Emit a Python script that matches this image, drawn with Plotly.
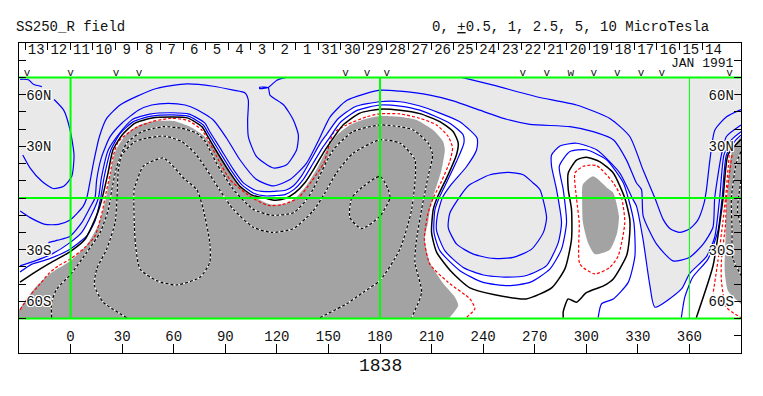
import plotly.graph_objects as go

# ---- labels ----
DAY_LABELS = ["13","12","11","10","9","8","7","6","5","4","3","2","1","31","30","29","28","27","26","25","24","23","22","21","20","19","18","17","16","15","14"]
DAY_TICKS = [-26.5,-13.4,-0.2,12.9,26.0,39.2,52.3,65.4,78.5,91.7,104.8,117.9,131.1,144.2,157.3,170.5,183.6,196.7,209.8,223.0,236.1,249.2,262.4,275.5,288.6,301.8,314.9,328.0,341.1,354.3,367.4,380.5]
LON_TICKS = [0,30,60,90,120,150,180,210,240,270,300,330,360]
LAT_TICKS = [-80,-70,-60,-50,-40,-30,-20,-10,0,10,20,30,40,50,60,70,80]
LAT_TEXT = ["","","60S","","","30S","","","","","","30N","","","60N","",""]
STATION_LON = [-25.3,0,26.5,39.8,160,172.4,184,263,277,304.4,318,331.8,344,383.4]
STATION_W_LON = [291]

# ---- contours, (lon, lat) ----
BLUE_5 = [(227.5,70),(245.9,65.5),(271,58.8),(294.3,54),(313.7,46.2),(325.3,35.7),(333,16.4),(339.9,0),(344.7,-12.4),(349,-18),(354.4,-20),(360,-18),(364.8,-13),(368.5,-3),(369.9,4.9),(371.9,22),(374.8,39.5),(381.6,47.2),(390,51.4)]
BLUE_5B = [(-29.3,-7.6),(-23.5,-11.4),(-14.8,-15.3),(-7,-15.3),(-0.3,-12.8),(7.4,-4.7),(9.4,0),(13.3,20.3),(16.8,35.7),(21,46.2),(28.8,54),(38.5,59),(50,63.6),(67.5,66.3),(83,64.9),(94.7,62.6),(101.5,61),(103.4,56.8),(103,45.3),(103.4,35.7),(108.2,24),(118,17.4),(125.7,19.3),(131.5,28),(132.5,36.6),(129.6,45.3),(124,54),(116,59.7),(115,64),(110,64.3),(110,63.6),(115,64.2),(120,68.4),(125.7,70)]
BLUE_LOOP_A = [(-29.3,68.9),(-24.5,68.7),(-21.6,66),(-16.7,64.7)]
BLUE_LOOP_B = [(-9.6,57.2),(-4,51),(-0.3,39.5),(2,25),(0.7,12.6),(-4,6.8),(-10,5.5),(-16.7,9.7),(-23.5,17.4),(-27.8,25)]
BLUE_INNER_LOOP = [(229.4,4.9),(220.7,-8.6),(219.7,-17.2),(224.6,-26.8),(234.3,-32.6),(245.9,-35.1),(257.5,-34.5),(268.2,-29.7),(275,-20.1),(276.9,-11.4),(273,4.9),(269.1,8.7),(263.3,13.5),(254.6,14.9),(244,13.5),(232.3,7.8),(229.4,4.9)]
BLUE_25 = [(-12.9,-25.9),(-7.3,-24.5),(-0.3,-22.2),(6.5,-14.3),(11.3,-5.5),(14.2,0),(15.2,10.7),(18.1,24),(23,35.6),(29.8,43.4),(39.4,51),(47.2,54),(56.9,55),(66.6,54),(73.4,51.4),(83,45.3),(90.8,34.7),(98.5,22.2),(108.2,10.7),(118,7),(127.7,10.7),(137.3,20.3),(145,35),(150.9,47),(160.8,56.7),(180,62.6),(191.6,62),(209,59.7),(222.6,56.4),(238,51),(253.6,45.7),(267.2,42.8),(290.5,41.4),(304,38.5),(315.7,33.8),(323.4,22),(329.2,8.7),(332.1,4.9),(333.1,-10.5),(340.9,-26.8),(350.5,-36.5),(360,-34.5),(368,-26.8),(373.7,-17),(374.7,0),(378.6,25),(381.5,35.7),(390,42.4)]
BLUE_1 = [(-29.4,-39.4),(-20.6,-36.5),(-11,-32.6),(-0.3,-25.9),(6.5,-20),(12.3,-9.5),(16.2,0),(18,12),(22,28),(28,37),(35.8,45.5),(46,48.7),(59,49.5),(69,48.7),(78,43.6),(81,38.5),(87,29),(94.7,16.6),(100.5,8.8),(107.5,4.5),(113,3.7),(119,3.9),(125,4.5),(129.5,7),(134.5,13),(140,22.5),(145.4,32),(149,37),(155.6,46),(165.5,53),(180,55.9),(191.6,55.9),(203.2,53.4),(214.8,49.3),(226.4,44.3),(236.5,34.7),(236.2,28),(230.4,18.3),(220.6,6.8),(216.2,0),(213.3,-10.5),(212.9,-19),(217.8,-30.7),(228.4,-40.3),(240,-44.7),(253.6,-46),(265.3,-45),(276.9,-39.3),(283.7,-25.9),(285.6,-14.3),(282.7,4.9),(279.8,18.4),(279.8,25),(284.7,30.2),(294.3,31.8),(306,28),(319.5,14.5),(326.7,0),(329.2,-4.7),(333,-23.9),(337,-50.9),(339.9,-63.4),(355.4,-52.8),(360,-44),(369.9,-34),(374.7,-22.8),(377.6,0),(380.1,25),(384.4,33.8),(390,38.5)]
BLUE_05 = [(-29.4,-43),(-22.5,-38.4),(-12.9,-35.5),(-0.3,-29.7),(9.4,-22),(14.2,-13.4),(17.5,0),(19.5,12),(23.5,28),(29,37.6),(36.8,44.5),(47,47.5),(59,48.3),(68.5,47.5),(77.2,42.4),(80.2,37.5),(86,28),(93.7,15.6),(99.5,7.8),(106.5,2.8),(113,1.2),(119,1.4),(124.7,2),(130,5),(135.5,11),(141,20),(146.4,29),(150,34),(157,44),(167,51),(180,54),(191.6,53.4),(203.2,51),(220.6,43.4),(228.4,36.6),(228.8,31.9),(224.5,21.2),(216.7,4.9),(214.4,0),(212,-6.6),(211.4,-20),(214.9,-30.7),(226.5,-42.2),(240,-49),(254.6,-50.9),(267.2,-49),(278.8,-41.3),(285.6,-29.7),(288.5,-14.3),(286.6,4.9),(284.3,18.4),(290.5,27),(300,28),(311.8,22.2),(321.5,8.8),(324.4,0),(327.7,-14.3),(328.3,-33.6),(324.4,-49),(315.7,-58.6),(308.9,-61.4),(306.9,-69.5)]
BLUE_05R = [(355.3,-69.5),(357.3,-57.6),(362,-45.9),(370.8,-35.5),(376.6,-19),(379,0),(381.5,25),(386.3,32.8),(390,36.6)]
BLACK_0 = [(-29.4,-48.8),(-20.6,-43),(-13,-38.4),(0,-31),(8.4,-24),(15.4,-9.5),(18.4,0),(21.8,14.6),(24.7,28),(30,36.6),(37.5,43.5),(47.4,46.4),(59,47),(68.3,46.4),(76.5,41.3),(79.4,36.5),(85,27),(92.7,14.7),(98.5,6.8),(106,1.5),(113,0),(119,-1.3),(124.7,-0.3),(130.5,3),(136.3,8.8),(142,17.6),(147.4,26.8),(150.9,32),(158.5,42.4),(168.3,49.3),(180,51.6),(191.6,51),(203.2,49),(214.8,44.3),(222.6,38.5),(225.5,31.9),(224.5,25.1),(219.7,13.6),(213.2,0),(211,-6.6),(210,-20),(213,-31.6),(221.7,-43),(232,-52),(246,-56),(265,-58.6),(280,-52),(287.6,-41),(291.4,-24),(291.4,-6.6),(289.5,5),(289.5,14.5),(294.3,22),(300,23.7),(308,21),(315.7,14.5),(322.4,0),(325.3,-12.4),(325,-24),(323.4,-33.6),(315.7,-47),(310,-51),(300,-55),(294.3,-60.5),(289.5,-58.6),(286.6,-66),(286.6,-69.5)]
BLACK_0R = [(364,-69.5),(373.7,-39.5),(377.6,-15),(379.6,0),(382.4,25),(388,32),(390,34)]
RED_A = [(-29.4,-65),(-24.5,-57.6),(-17.7,-49.9),(-12.9,-44.1),(-7.1,-39.4),(-0.3,-35.5),(8.4,-28.7),(14.2,-22),(18.5,-7.6),(20,0),(23,14),(25,25),(27.8,32.8),(37.5,40.5),(47.2,44.3),(58.8,46.3),(68.5,44.9),(76.3,39.5),(79.4,34.8),(85,24.1),(92.7,10.7),(101.5,3),(107.3,-0.9),(115,-4.3),(122.8,-3.9),(132.4,0),(140.2,9.7),(147.4,20.5),(152.8,37.6),(160.5,42.4),(172.3,47.2),(180,48.9),(191.6,48.8),(203.2,46.3),(212.9,42.4),(219.7,35.7),(222.2,29),(220.6,21.2),(215.8,9.7),(211,0),(208,-8.6),(205.8,-24),(209,-38.4),(219.7,-49),(232.3,-58.6),(235.2,-64.3),(230,-69.5)]
RED_ISLAND = [(294.3,0),(293.4,14.5),(298.2,18.4),(306,18.8),(315.7,8.8),(320.5,0),(322.4,-14.3),(318.6,-33.6),(313.7,-40.3),(305,-44.1),(296.3,-38.4),(295.9,-14.3),(294.3,0)]
RED_R1 = [(383.4,28),(381,0),(379.5,-13.4),(376.6,-36.5),(373.7,-55.7)]
RED_R2 = [(384.8,25),(381.5,0),(381,-15.3),(378.6,-36.5),(378.6,-48),(381.5,-63.4),(390,-69.5)]
POS_1 = [(-11,-69.5),(-11,-60.5),(-8,-52.8),(-0.3,-44.7),(9.4,-31.6),(17.2,-20),(22,-6.6),(24,4.9),(26.9,18.3),(32.7,31.9),(41.4,38.5),(54,41.4),(64.7,40.5),(73.4,37.6),(78.2,33),(85,20),(94.7,5),(106.3,-6.6),(117,-10),(129.6,-8.6),(137.3,-0.9),(141,5),(152.8,28),(164.4,38.6),(180,42.4),(191.6,41.4),(199.3,39.5),(208,31.9),(210.6,25),(208,12.6),(204.2,-6.6),(201,-25.9),(200.3,-37.4),(204.2,-54.7),(198.4,-69.5)]
POS_2 = [(32.7,-69.5),(19,-60.5),(13.9,-50.9),(15.2,-41.3),(21,-29.7),(25.9,-14.3),(27,0),(27.8,16.4),(29.8,25),(37.5,32.8),(44.3,34.7),(54,36),(64.7,32.8),(72.4,26),(78.2,18),(86.5,5),(94.7,-6.6),(106.3,-17),(117,-20),(129.6,-17.8),(141,-7.6),(148,3),(154.6,14.5),(164.4,26),(180,33.8),(191.6,31.9),(200.3,22.2),(198.4,-6.6),(191.6,-29.7),(180,-47.9),(170.3,-54.7),(160.6,-61.4),(145,-69.5)]
POS_3 = [(36.9,4.9),(37.5,-23.9),(40.4,-41.2),(50,-48),(61.7,-50.5),(75.3,-46),(81,-37.4),(81,-25.9),(77.2,-6.6),(73.4,4.9),(66.6,10.7),(54,23.2),(42.3,18.4),(37.5,6.8),(36.9,4.9)]
POS_4 = [(180,12.6),(184.8,4.9),(185.8,0),(180,-10.5),(169.3,-17.8),(162.5,-11.4),(163.5,0),(170.3,6.8),(180,12.6)]
POS_R1 = [(390,27),(387.3,20.3),(384.4,0),(384.8,-19),(384.8,-30),(385.4,-35.5),(390,-45)]
POS_R2 = [(390,10),(388.5,0),(388,-7.8),(390,-16.3)]
GRAY_MAIN = [(-30,-70),(-30,-65.5),(-20.5,-52),(-12,-44),(0,-36.5),(9.6,-27),(16,-16),(19,-6.6),(20.6,0),(23,12.6),(26,27),(32,36.6),(40,42.4),(50,44.7),(60,44.7),(69.5,41.4),(77,36.6),(83,30),(89,20),(94.7,11.6),(100.5,5),(108,0),(116,-3.7),(124,-3.7),(129.6,-1),(137,7),(143,16.4),(149,28),(155,36.6),(162.5,42.4),(172,46),(180,47.6),(191.6,47.2),(201.3,45.3),(210.9,39.5),(216.7,32.8),(217.7,28),(215.8,16.4),(211,1),(209,-7),(208,-14),(206,-24),(209,-37.5),(217,-50),(223.6,-57.6),(225.5,-62.4),(220,-70)]
GRAY_ISLAND = [(304,12.6),(298,7.8),(297.6,0),(298,-14),(301,-26),(305,-32.6),(313.7,-30),(318,-20),(319,-10.5),(315.7,3),(312,6),(304,12.6)]
GRAY_RIGHT = [(390,35.7),(385.4,29),(383.4,20.5),(381.9,0),(381.5,-3.8),(381,-23),(380.5,-42),(382.4,-53.8),(390,-61.5)]

BLUE="#0000ff"; RED="#ff0000"; GREEN="#00ff00"
MONO="Liberation Mono"
fig = go.Figure()

def xs(p): return [a for a,_ in p]
def ys(p): return [b for _,b in p]
def fill(p, color):
    fig.add_trace(go.Scatter(x=xs(p), y=ys(p), mode="lines", fill="toself", fillcolor=color,
                             line=dict(width=0, shape="spline", smoothing=0.6), hoverinfo="skip"))
def line(p, color, width=1.2, dash=None, shape="spline"):
    fig.add_trace(go.Scatter(x=xs(p), y=ys(p), mode="lines",
                             line=dict(color=color, width=width, dash=dash, shape=shape, smoothing=0.6), hoverinfo="skip"))

# the light field is a smooth band along the contour, closed by a straight-edged block above it
fill(BLUE_1 + [(390,38.5),(390,69.9),(390,69.9),(-30,69.9),(-30,69.9),(-30,-39.4),(-30,-39.4)], "#e9e9e9")
fill(GRAY_MAIN, "#a3a3a3")
fill(GRAY_ISLAND, "#a3a3a3")
fill(GRAY_RIGHT, "#a3a3a3")

for p in [RED_A, RED_ISLAND, RED_R1, RED_R2]:
    line(p, RED, 1.2, "3px,2px")
for p in [POS_1, POS_2, POS_3, POS_4, POS_R1, POS_R2]:
    line(p, "#ffffff", 1.2)
    line(p, "#000000", 1.2, "3px,2px")
for p in [BLUE_5, BLUE_5B, BLUE_LOOP_A, BLUE_LOOP_B, BLUE_INNER_LOOP, BLUE_25, BLUE_1, BLUE_05, BLUE_05R]:
    line(p, BLUE)
for p in [BLACK_0, BLACK_0R]:
    line(p, "#000000", 1.5)

# green reference lines
for p, w in [([(-30,70),(390,70)],2), ([(-30,-70),(390,-70)],2), ([(-30,0),(390,0)],2),
             ([(0,-70),(0,70)],2), ([(180,-70),(180,70)],2), ([(360,-70),(360,70)],1)]:
    line(p, GREEN, w, shape="linear")

# day labels + station marks
fig.add_trace(go.Scatter(x=[(DAY_TICKS[i]+DAY_TICKS[i+1])/2 for i in range(len(DAY_LABELS))],
                         y=[85.9]*len(DAY_LABELS), mode="text", text=DAY_LABELS,
                         textfont=dict(family=MONO, size=14, color="#111"), hoverinfo="skip", cliponaxis=False))
fig.add_trace(go.Scatter(x=STATION_LON, y=[72.3]*len(STATION_LON), mode="text", text=["v"]*len(STATION_LON),
                         textfont=dict(family=MONO, size=11, color="#111"), hoverinfo="skip"))
fig.add_trace(go.Scatter(x=STATION_W_LON, y=[72.3], mode="text", text=["w"],
                         textfont=dict(family=MONO, size=11, color="#111"), hoverinfo="skip"))
# carriers for the mirrored axes
fig.add_trace(go.Scatter(x=[0], y=[0], xaxis="x2", yaxis="y2", mode="markers", marker=dict(opacity=0), hoverinfo="skip"))

HALO = "1px 0 0 #fff,-1px 0 0 #fff,0 1px 0 #fff,0 -1px 0 #fff,1px 1px 0 #fff,-1px -1px 0 #fff,1px -1px 0 #fff,-1px 1px 0 #fff"
tickf = dict(family=MONO, size=14, color="#111")
latf = dict(family=MONO, size=14, color="#111", shadow=HALO)
fig.update_layout(
    width=755, height=388, margin=dict(l=11, r=22, t=35, b=43), autosize=False,
    paper_bgcolor="#fff", plot_bgcolor="#fff", showlegend=False,
    xaxis=dict(range=[-30,390], tickmode="array", tickvals=LON_TICKS, ticktext=[str(v) for v in LON_TICKS],
               ticks="inside", ticklen=9, tickcolor="#000", tickwidth=1, ticklabelposition="inside",
               tickfont=tickf, showgrid=False, zeroline=False, showline=True, linecolor="#000", linewidth=1, mirror=False),
    xaxis2=dict(range=[-30,390], overlaying="x", side="top", tickmode="array", tickvals=DAY_TICKS,
                ticktext=[""]*len(DAY_TICKS), ticks="inside", ticklen=7, tickcolor="#000", showgrid=False,
                zeroline=False, showline=True, linecolor="#000", linewidth=1),
    yaxis=dict(range=[-90,90], tickmode="array", tickvals=LAT_TICKS, ticktext=LAT_TEXT, ticks="inside",
               ticklen=7, tickcolor="#000", ticklabelposition="inside", tickfont=latf, showgrid=False,
               zeroline=False, showline=True, linecolor="#000", linewidth=1),
    yaxis2=dict(range=[-90,90], overlaying="y", side="right", anchor="x2", tickmode="array", tickvals=LAT_TICKS,
                ticktext=LAT_TEXT, ticks="inside", ticklen=7, tickcolor="#000", ticklabelposition="inside",
                tickfont=latf, showgrid=False, zeroline=False, showline=True, linecolor="#000", linewidth=1),
    annotations=[
        dict(text="SS250_R field", xref="paper", yref="paper", x=-5/722, y=1+16/310, xanchor="left", yanchor="middle",
             showarrow=False, font=dict(family=MONO, size=14, color="#111")),
        dict(text="0, <u>+</u>0.5, 1, 2.5, 5, 10 MicroTesla", xref="paper", yref="paper", x=411/722, y=1+16/310,
             xanchor="left", yanchor="middle", showarrow=False, font=dict(family=MONO, size=14, color="#111")),
        dict(text="JAN 1991", xref="paper", yref="paper", x=717/722, y=1-20.5/310, xanchor="right", yanchor="middle",
             showarrow=False, font=dict(family=MONO, size=13, color="#111")),
        dict(text="1838", xref="paper", yref="paper", x=361/722, y=-13/310, xanchor="center", yanchor="middle",
             showarrow=False, font=dict(family=MONO, size=18, color="#111")),
        dict(text=">", xref="x", yref="y", x=-31.5, y=-7, showarrow=False, font=dict(family=MONO, size=10, color=GREEN)),
    ],
)
fig.write_html("out.html")
